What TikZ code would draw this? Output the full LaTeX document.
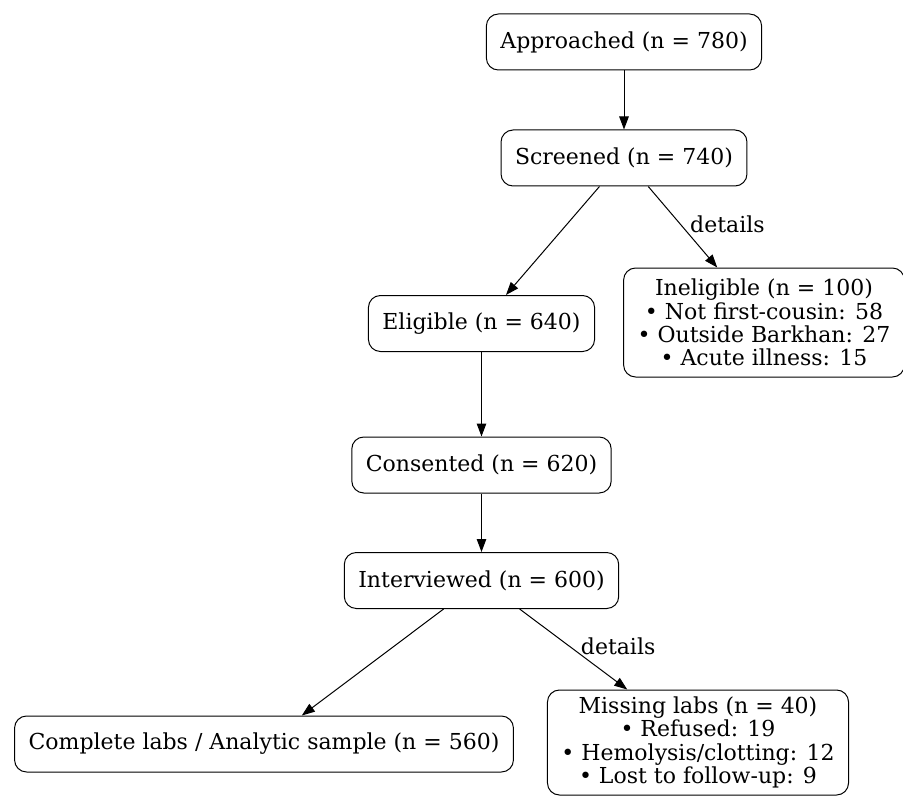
\documentclass[tikz,border=0pt]{standalone}
\usepackage{fontspec}
\setmainfont{DejaVu Serif}
\usetikzlibrary{arrows.meta, positioning}

\tikzset{
  stagebox/.style={draw, line width=1pt, rounded corners=12pt,
                   minimum height=56pt, inner xsep=14pt, inner ysep=5pt,
                   align=center, font=\fontsize{22}{23.4}\selectfont},
  flow/.style={line width=1pt, -{Triangle[length=13pt,width=9.5pt]}},
  edgelabel/.style={font=\fontsize{22}{23.4}\selectfont, anchor=west, inner sep=7pt, yshift=3pt}
}

\begin{document}
\begin{tikzpicture}[x=1pt, y=-1pt]
\useasboundingbox (0,0) rectangle (903,797);

% main stages
\node[stagebox] (approached)  at (624,42)    {Approached (n = 780)};
\node[stagebox] (screened)    at (624,158)   {Screened (n = 740)};
\node[stagebox] (eligible)    at (481.5,323.5) {Eligible (n = 640)};
\node[stagebox] (consented)   at (481.5,465) {Consented (n = 620)};
\node[stagebox] (interviewed) at (481.5,580.5) {Interviewed (n = 600)};
\node[stagebox] (complete)    at (264,744)   {Complete labs / Analytic sample (n = 560)};

% exclusion details
\node[stagebox, minimum height=109pt] (ineligible) at (764,322.5) {Ineligible (n = 100)\\
  • Not first-cousin: 58\\ • Outside Barkhan: 27\\ • Acute illness: 15};
\node[stagebox, minimum height=105pt] (missing) at (698,742.5) {Missing labs (n = 40)\\
  • Refused: 19\\ • Hemolysis/clotting: 12\\ • Lost to follow-up: 9};

\draw[flow] (approached) -- (screened);
\draw[flow] (screened) -- (eligible);
\draw[flow] (screened) -- node[edgelabel] {details} (ineligible);
\draw[flow] (eligible) -- (consented);
\draw[flow] (consented) -- (interviewed);
\draw[flow] (interviewed) -- (complete);
\draw[flow] (interviewed) -- node[edgelabel] {details} (missing);
\end{tikzpicture}
\end{document}
